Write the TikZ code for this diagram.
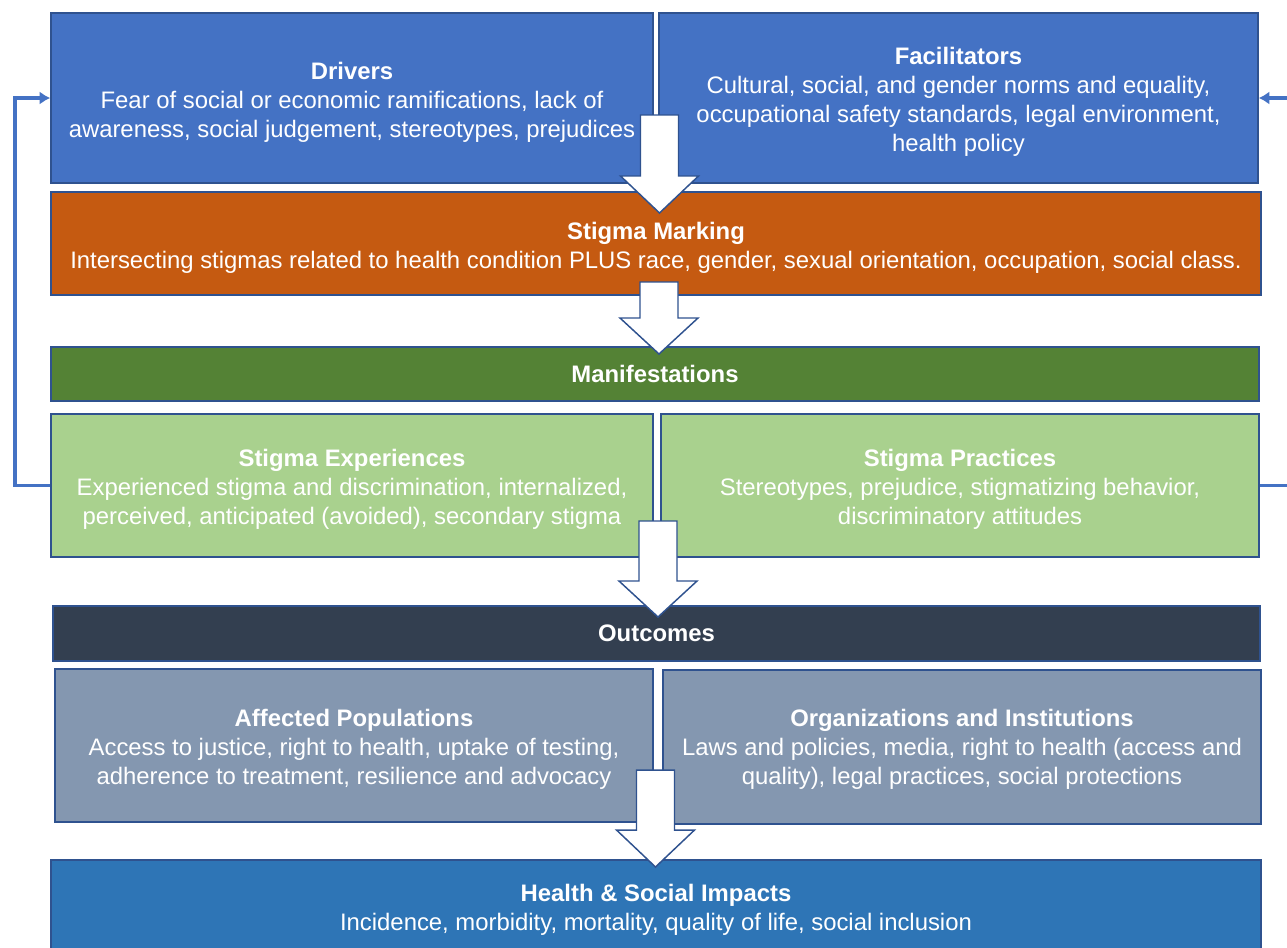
\documentclass[tikz,border=0pt]{standalone}
\usepackage{fontspec}
\setmainfont{Liberation Sans}
\usetikzlibrary{arrows.meta}
\definecolor{bordc}{HTML}{2F528F}
\definecolor{drvc}{HTML}{4472C4}
\definecolor{markc}{HTML}{C55A11}
\definecolor{manc}{HTML}{548235}
\definecolor{expc}{HTML}{A9D18E}
\definecolor{outc}{HTML}{333F50}
\definecolor{affc}{HTML}{8497B0}
\definecolor{hlthc}{HTML}{2E75B6}
\newcommand\bigarrowdraw[4]{%
  \draw[bigarr] (#1-19,#2) -- (#1+19,#2) -- (#1+19,#3) -- (#1+39,#3) -- (#1,#4) -- (#1-39,#3) -- (#1-19,#3) -- cycle;}
\newcommand\tstrut{\rule{0pt}{19pt}}
\newcommand\sstrut{\rule{0pt}{16.5pt}}
\begin{document}
\begin{tikzpicture}[x=0.75pt,y=-0.75pt,
  box/.style={draw=bordc, line width=1.1pt, text=white, align=center, inner sep=0pt,
    font=\fontsize{17.9}{21.75}\selectfont},
  bigarr/.style={draw=bordc, fill=white, line width=1.1pt, line join=miter},
  fb/.style={draw=drvc, line width=2.6pt, -{Latex[length=8pt,width=10pt]}}]
\useasboundingbox (0,0) rectangle (1287,947);
\clip (0,0) rectangle (1287,947);

\node[box, fill=drvc, minimum width=451.5pt, minimum height=127.5pt] (drv) at (352,98)
  {\tstrut\textbf{Drivers}\\Fear of social or economic ramifications, lack of\\awareness, social judgement, stereotypes, prejudices};
\node[box, fill=drvc, minimum width=449.25pt, minimum height=127.5pt] (fac) at (958.5,98)
  {\tstrut\textbf{Facilitators}\\Cultural, social, and gender norms and equality,\\occupational safety standards, legal environment,\\health policy};
\node[box, fill=markc, minimum width=907.5pt, minimum height=77.25pt] (mark) at (656,243.5)
  {\tstrut\textbf{Stigma Marking}\\Intersecting stigmas related to health condition PLUS race, gender, sexual orientation, occupation, social class.};
\node[box, fill=manc, minimum width=906pt, minimum height=40.5pt] (man) at (655,374)
  {\textbf{Manifestations}};
\node[box, fill=expc, minimum width=451.5pt, minimum height=107.25pt] (exp) at (352,485.5)
  {\tstrut\textbf{Stigma Experiences}\\Experienced stigma and discrimination, internalized,\\perceived, anticipated (avoided), secondary stigma};
\node[box, fill=expc, minimum width=448.5pt, minimum height=107.25pt] (prac) at (960,485.5)
  {\tstrut\textbf{Stigma Practices}\\Stereotypes, prejudice, stigmatizing behavior,\\discriminatory attitudes};
\node[box, fill=outc, minimum width=905.25pt, minimum height=41.25pt] (out) at (656.5,633.5)
  {\textbf{Outcomes}};
\node[box, fill=affc, minimum width=448.5pt, minimum height=114.75pt] (aff) at (354,745.5)
  {\tstrut\textbf{Affected Populations}\\Access to justice, right to health, uptake of testing,\\adherence to treatment, resilience and advocacy};
\node[box, fill=affc, minimum width=448.5pt, minimum height=115.5pt] (org) at (962,747)
  {\sstrut\textbf{Organizations and Institutions}\\Laws and policies, media, right to health (access and\\quality), legal practices, social protections};
\node[box, fill=hlthc, minimum width=907.5pt, minimum height=71.25pt] (hlth) at (656,907.5)
  {\sstrut\textbf{Health \& Social Impacts}\\Incidence, morbidity, mortality, quality of life, social inclusion};

\bigarrowdraw{659.5}{115}{176}{213}
\bigarrowdraw{659}{282}{318}{354}
\bigarrowdraw{658}{521}{581}{617}
\bigarrowdraw{655.5}{770}{830}{867}

\coordinate (lft) at (15,485.5);
\coordinate (rgt) at (1300,485.5);
\draw[fb] (exp.west) -- (lft) |- (drv.west);
\draw[fb] (prac.east) -- (rgt) |- (fac.east);
\end{tikzpicture}
\end{document}
